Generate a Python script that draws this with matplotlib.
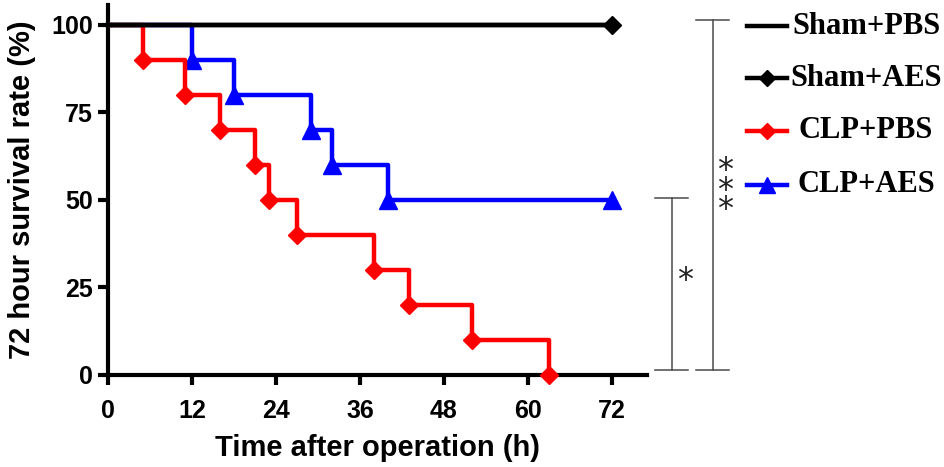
import matplotlib
matplotlib.use("Agg")
import matplotlib.pyplot as plt
from matplotlib.lines import Line2D

# ---- data ----
sham_pbs_t = [0, 72]
sham_pbs_s = [100, 100]
sham_aes_t = [0, 72]
sham_aes_s = [100, 100]
clp_pbs_t = [0, 5, 11, 16, 21, 23, 27, 38, 43, 52, 63]
clp_pbs_s = [100, 90, 80, 70, 60, 50, 40, 30, 20, 10, 0]
clp_aes_t = [0, 12, 18, 29, 32, 40, 72]
clp_aes_s = [100, 90, 80, 70, 60, 50, 50]
labels = ["Sham+PBS", "Sham+AES", "CLP+PBS", "CLP+AES"]
xticks = [0, 12, 24, 36, 48, 60, 72]
yticks = [0, 25, 50, 75, 100]

W, H = 945, 467
fig = plt.figure(figsize=(W / 100, H / 100), dpi=100)

def fx(px):
    return px / W

def fy(py):
    return 1 - py / H

ax = fig.add_axes([fx(108), fy(375), fx(647) - fx(108), fy(5) - fy(375)])
ax.set_xlim(0, 77)
ax.set_ylim(0, 105.7)

sans = "Liberation Sans"
serif = "Liberation Serif"
lw = 3.2

ax.step(clp_aes_t, clp_aes_s, where="post", color="#0000ff", lw=lw, zorder=3)
ax.plot(clp_aes_t[1:], clp_aes_s[1:], ls="none", marker="^", ms=13,
        color="#0000ff", zorder=4, clip_on=False)
ax.step(clp_pbs_t, clp_pbs_s, where="post", color="#ff0000", lw=lw, zorder=5)
ax.plot(clp_pbs_t[1:], clp_pbs_s[1:], ls="none", marker="D", ms=9.5,
        color="#ff0000", zorder=6, clip_on=False)
ax.step(sham_pbs_t, sham_pbs_s, where="post", color="black", lw=lw, zorder=7,
        clip_on=False)
ax.step(sham_aes_t, sham_aes_s, where="post", color="black", lw=lw, zorder=7,
        clip_on=False)
ax.plot(sham_aes_t[-1:], sham_aes_s[-1:], ls="none", marker="D", ms=9.5,
        color="black", zorder=8, clip_on=False)

for s in ["top", "right"]:
    ax.spines[s].set_visible(False)
for s in ["left", "bottom"]:
    ax.spines[s].set_linewidth(3)
ax.set_xticks(xticks)
ax.set_yticks(yticks)
ax.tick_params(direction="out", length=7, width=3)
ax.tick_params(axis="x", pad=10)
ax.tick_params(axis="y", pad=4)
for t in ax.get_xticklabels() + ax.get_yticklabels():
    t.set_fontfamily(sans)
    t.set_fontweight("bold")
    t.set_fontsize(18)

ax.set_xlabel("Time after operation (h)", fontfamily=sans, fontweight="bold",
              fontsize=21, labelpad=8)
ax.set_ylabel("72 hour survival rate (%)", fontfamily=sans, fontweight="bold",
              fontsize=21, labelpad=11)

# ---- significance brackets ----
gray = "#4a4a4a"
def seg(x0, y0, x1, y1):
    ax.plot([x0, x1], [y0, y1], color=gray, lw=1.1, clip_on=False, zorder=2)

seg(80.57, 1.43, 80.57, 50.57)
seg(78.14, 1.43, 82.86, 1.43)
seg(78.14, 50.57, 82.86, 50.57)
seg(86.43, 1.43, 86.43, 101.43)
seg(84.0, 1.43, 88.71, 1.43)
seg(84.0, 101.43, 88.71, 101.43)

ast_kw = dict(ha="center", va="center", fontsize=23, color="#222222",
              family="DejaVu Sans", clip_on=False)
ax.text(82.43, 27.0, "*", **ast_kw)
ax.text(88.14, 52.8, "*\n*\n*", linespacing=0.52, **ast_kw)

# ---- legend ----
rows = [26, 78, 131, 185]
colors = ["black", "black", "#ff0000", "#0000ff"]
markers = [None, "D", "D", "^"]
msizes = [0, 8, 8, 12]
for r, lab, c, m, ms in zip(rows, labels, colors, markers, msizes):
    fig.add_artist(Line2D([fx(747), fx(787)], [fy(r), fy(r)], color=c, lw=3.2,
                          transform=fig.transFigure))
    if m:
        fig.add_artist(Line2D([fx(767)], [fy(r)], color=c, marker=m, ms=ms,
                              ls="none", transform=fig.transFigure))
    fig.text(fx(866), fy(r), lab, ha="center", va="center", fontfamily=serif,
             fontweight="bold", fontsize=22)

fig.savefig("out.png", dpi=100)
